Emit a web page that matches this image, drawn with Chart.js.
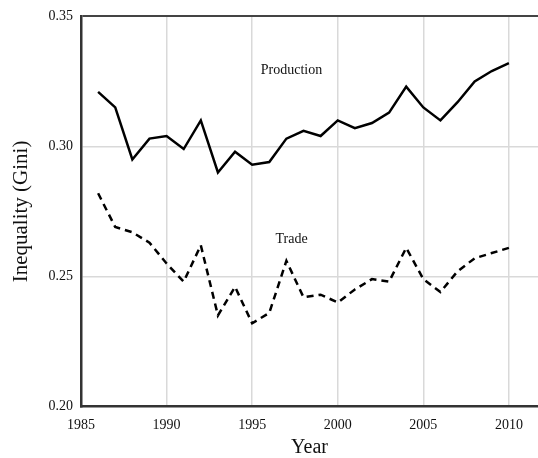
<!DOCTYPE html>
<html>
<head>
<meta charset="utf-8">
<script src="https://cdn.jsdelivr.net/npm/chart.js@4.4.1/dist/chart.umd.min.js"></script>
<style>
  html, body { margin: 0; padding: 0; background: #fff; }
  #wrap { width: 538px; height: 458px; position: relative; }
</style>
</head>
<body>
<div id="wrap"><canvas id="lineChart"></canvas></div>
<script>
// values
const years = [1986, 1987, 1988, 1989, 1990, 1991, 1992, 1993, 1994, 1995, 1996, 1997, 1998,
               1999, 2000, 2001, 2002, 2003, 2004, 2005, 2006, 2007, 2008, 2009, 2010];
const production = [0.321, 0.315, 0.295, 0.303, 0.304, 0.299, 0.310, 0.290, 0.298, 0.293, 0.294, 0.303, 0.306,
                    0.304, 0.310, 0.307, 0.309, 0.313, 0.323, 0.315, 0.310, 0.317, 0.325, 0.329, 0.332];
const trade = [0.282, 0.269, 0.267, 0.263, 0.255, 0.248, 0.262, 0.235, 0.246, 0.232, 0.236, 0.256, 0.242,
               0.243, 0.240, 0.245, 0.249, 0.248, 0.261, 0.249, 0.244, 0.252, 0.257, 0.259, 0.261];
const xTicks = [1985, 1990, 1995, 2000, 2005, 2010];
const yTicks = [0.20, 0.25, 0.30, 0.35];
const seriesNames = ["Production", "Trade"];

const serif = "'Liberation Serif', 'Times New Roman', serif";

// series names written inside the plot, next to each line
const lineLabels = {
    id: "lineLabels",
    afterDatasetsDraw(chart) {
        const { ctx, scales: { x, y } } = chart;
        const spots = [[1997.3, 0.3292], [1997.3, 0.2643]];
        ctx.save();
        ctx.font = "14px " + serif;
        ctx.fillStyle = "#111";
        ctx.textAlign = "center";
        ctx.textBaseline = "middle";
        seriesNames.forEach((name, i) => {
            ctx.fillText(name, x.getPixelForValue(spots[i][0]), y.getPixelForValue(spots[i][1]));
        });
        ctx.restore();
    }
};

const ctx = document.getElementById("lineChart").getContext("2d");
new Chart(ctx, {
    type: "line",
    data: {
        datasets: [
            {
                label: seriesNames[0],
                data: years.map((yr, i) => ({ x: yr, y: production[i] })),
                borderColor: "#000", borderWidth: 2.5, pointRadius: 0, tension: 0, fill: false
            },
            {
                label: seriesNames[1],
                data: years.map((yr, i) => ({ x: yr, y: trade[i] })),
                borderColor: "#000", borderWidth: 2.5, borderDash: [7, 5], pointRadius: 0, tension: 0, fill: false
            }
        ]
    },
    options: {
        responsive: true,
        maintainAspectRatio: false,
        animation: false,
        layout: { padding: { top: 14, right: 0, bottom: 0, left: 0 } },
        plugins: { legend: { display: false }, tooltip: { enabled: false } },
        scales: {
            x: {
                type: "linear",
                min: 1985,
                max: 2011.7,
                afterFit(scale) { scale.height = 51.5; },
                afterBuildTicks(scale) { scale.ticks = xTicks.map(v => ({ value: v })); },
                border: { color: "#333", width: 2.5 },
                grid: {
                    drawTicks: false,
                    lineWidth: 1.5,
                    color: c => (c.tick && c.tick.value === 1985 ? "rgba(0,0,0,0)" : "#d9d9d9")
                },
                ticks: {
                    padding: 10,
                    color: "#111",
                    font: { family: serif, size: 14 },
                    callback: v => String(v)
                },
                title: {
                    display: true,
                    text: "Year",
                    color: "#111",
                    padding: 0,
                    font: { family: serif, size: 20, lineHeight: 1 }
                }
            },
            y: {
                min: 0.20,
                max: 0.35,
                afterFit(scale) { scale.width = 81; },
                afterBuildTicks(scale) { scale.ticks = yTicks.map(v => ({ value: v })); },
                border: { color: "#333", width: 2.5 },
                grid: {
                    drawTicks: false,
                    lineWidth: c => (c.tick && c.tick.value === 0.35 ? 2 : 1.5),
                    color: c => {
                        if (!c.tick) return "#d9d9d9";
                        if (c.tick.value === 0.35) return "#444";
                        if (c.tick.value === 0.20) return "rgba(0,0,0,0)";
                        return "#d9d9d9";
                    }
                },
                ticks: {
                    padding: 8,
                    color: "#111",
                    font: { family: serif, size: 14 },
                    callback: v => Number(v).toFixed(2)
                },
                title: {
                    display: true,
                    text: "Inequality (Gini)",
                    color: "#111",
                    padding: { top: 11, bottom: 0 },
                    font: { family: serif, size: 21, lineHeight: 1 }
                }
            }
        }
    },
    plugins: [lineLabels]
});
</script>
</body>
</html>
